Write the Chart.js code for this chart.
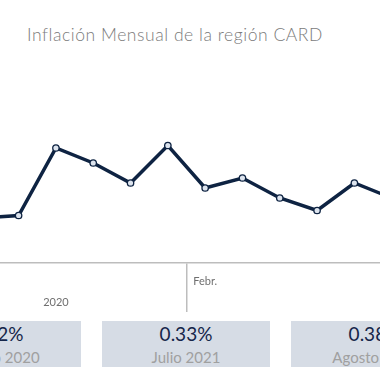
<!DOCTYPE html>
<html lang="es">
<head>
<meta charset="utf-8">
<script src="https://cdn.jsdelivr.net/npm/chart.js@4.4.1/dist/chart.umd.min.js"></script>
<style>
  html, body { margin: 0; padding: 0; width: 380px; height: 380px; overflow: hidden; background: #fff; font-family: Lato, "Noto Sans", sans-serif; }
  #title { position: absolute; left: 27px; top: 25px; font-size: 17.5px; font-weight: 300; letter-spacing: 0.55px; line-height: 20px; color: #7b7b7b; white-space: nowrap; }
  #chartBox { position: absolute; left: -24px; top: 50px; width: 421px; height: 270px; }
  .card { position: absolute; top: 321px; width: 168px; height: 46px; background: #d6dce5; text-align: center; white-space: nowrap; }
  .card .val { font-size: 19px; line-height: 20px; margin-top: 3px; color: #15264a; }
  .card .lbl { font-size: 15px; line-height: 18px; margin-top: 4px; color: #a0a0a0; }
  .c0 { left: -87px; }
  .c1 { left: 102px; }
  .c2 { left: 291px; }
</style>
</head>
<body>
<div id="title">Inflación Mensual de la región CARD</div>
<div id="chartBox"><canvas id="inflChart"></canvas></div>
<div id="cards"></div>
<script>
// months shown on the line (the first and last are cut off by the frame)
var months = ['Jul.', 'Ago.', 'Sept.', 'Oct.', 'Nov.', 'Dic.', 'Febr.', 'Mar.', 'Abr.', 'May.', 'Jun.', 'Jul.'];
// monthly inflation, %
var inflacion = [0.18, 0.19, 0.46, 0.40, 0.32, 0.47, 0.30, 0.34, 0.26, 0.21, 0.32, 0.26];

// axis labels that are visible in the picture
var monthTickIndex = 6;
var yearTickIndex = 2;
var yearLabel = '2020';
var yearBoundaryIndex = 6;

// KPI cards under the chart
var cardValues = ['0.52%', '0.33%', '0.38%'];
var cardLabels = ['Agosto 2020', 'Julio 2021', 'Agosto 2021'];

document.addEventListener('DOMContentLoaded', function () {
    var cards = document.getElementById('cards');
    cardValues.forEach(function (v, i) {
        var d = document.createElement('div');
        d.className = 'card c' + i;
        d.innerHTML = '<div class="val"></div><div class="lbl"></div>';
        d.querySelector('.val').textContent = v;
        d.querySelector('.lbl').textContent = cardLabels[i];
        cards.appendChild(d);
    });

    var ctx = document.getElementById('inflChart').getContext('2d');
    new Chart(ctx, {
        type: 'line',
        data: {
            labels: months,
            datasets: [{
                data: inflacion,
                borderColor: '#0e2342',
                borderWidth: 3.5,
                pointRadius: 3.2,
                pointBackgroundColor: '#dde4ee',
                pointBorderColor: '#0e2342',
                pointBorderWidth: 1.3,
                tension: 0
            }]
        },
        options: {
            responsive: true,
            maintainAspectRatio: false,
            animation: false,
            layout: { padding: { top: 13, left: 0, right: 0, bottom: 0 } },
            plugins: {
                legend: { display: false },
                tooltip: { enabled: false }
            },
            scales: {
                y: { display: false, min: 0, max: 0.8 },
                x: {
                    grid: {
                        offset: true,
                        drawOnChartArea: false,
                        drawTicks: true,
                        tickLength: 49,
                        lineWidth: 1.5,
                        color: function (c) {
                            return c.index === yearBoundaryIndex ? '#bdbdbd' : 'rgba(0,0,0,0)';
                        }
                    },
                    border: { display: true, color: '#bdbdbd', width: 1.5 },
                    ticks: {
                        autoSkip: false,
                        maxRotation: 0,
                        padding: -41,
                        color: '#6f6f6f',
                        font: { family: 'Lato', size: 11, lineHeight: 1.9 },
                        callback: function (value, index) {
                            if (index === monthTickIndex) return months[index];
                            if (index === yearTickIndex) return ['', yearLabel];
                            return '';
                        }
                    },
                    afterFit: function (scale) { scale.height = 57; }
                }
            }
        }
    });
});
</script>
</body>
</html>
